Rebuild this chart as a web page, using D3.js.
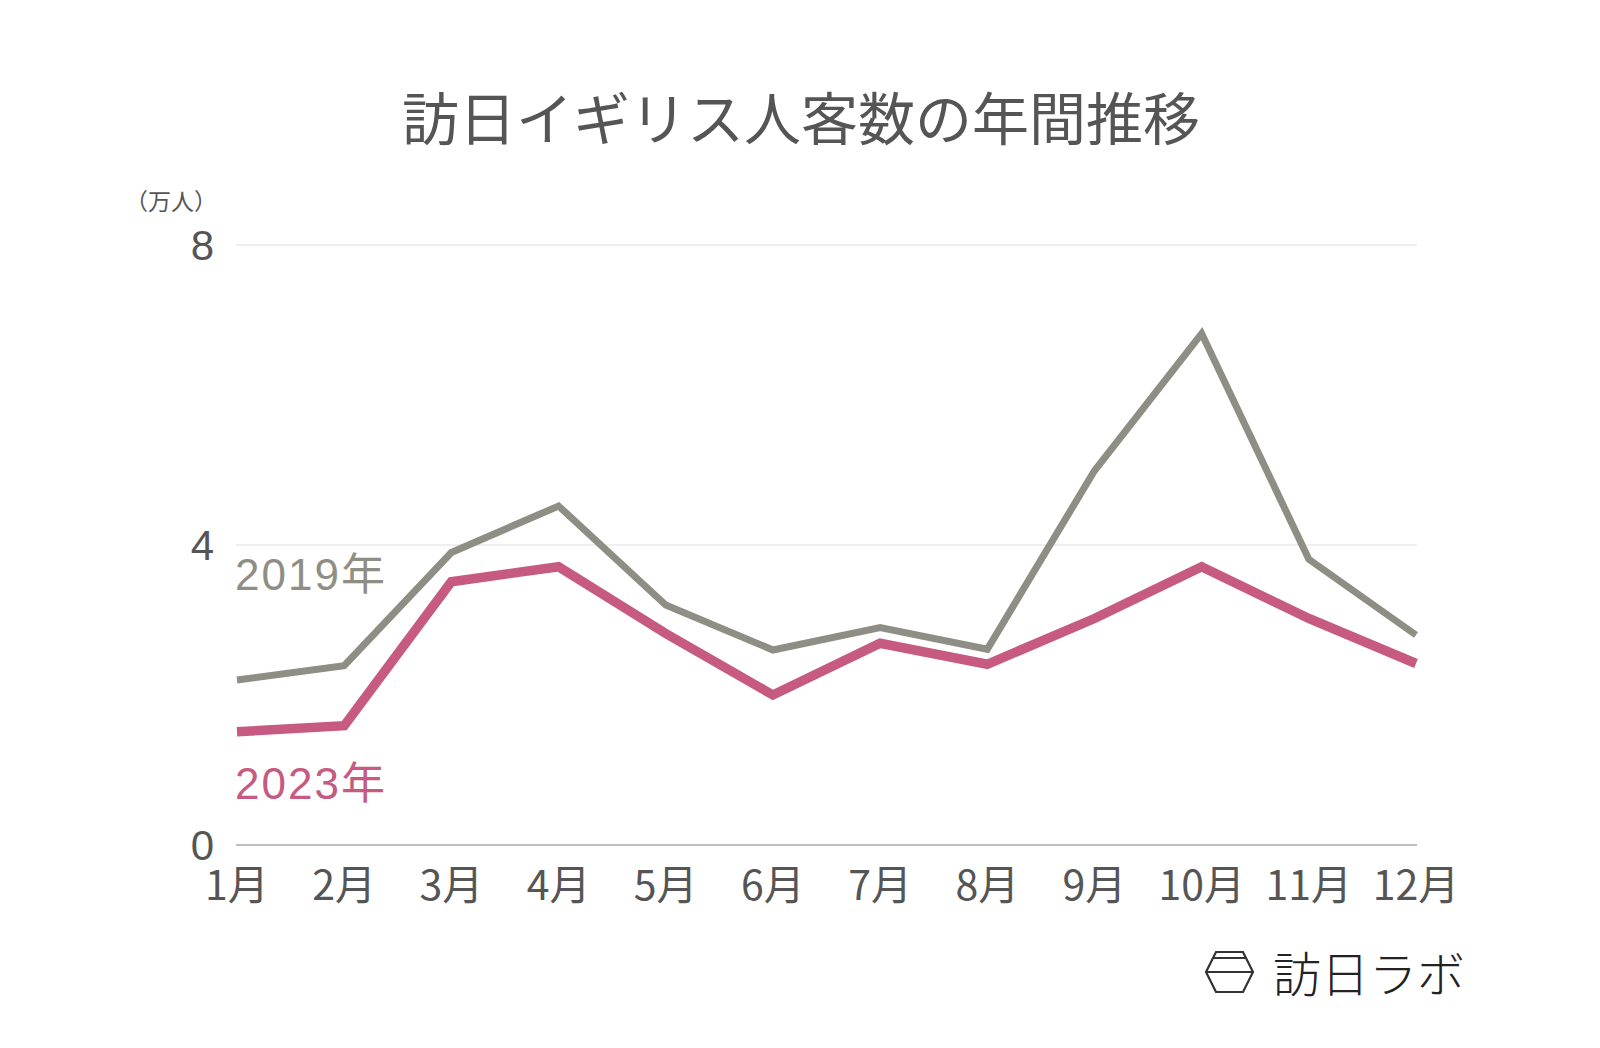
<!DOCTYPE html>
<html><head><meta charset="utf-8">
<script src="https://cdn.jsdelivr.net/npm/d3@7"></script>
<style>
html,body{margin:0;padding:0;background:#fff;}
svg{display:block;font-family:"Noto Sans CJK JP","Noto Sans",sans-serif;}
</style></head>
<body><svg id="c" width="1600" height="1048"></svg>
<script>
const months = ["1月","2月","3月","4月","5月","6月","7月","8月","9月","10月","11月","12月"];
const v2019 = [2.20, 2.39, 3.90, 4.52, 3.20, 2.60, 2.90, 2.61, 4.99, 6.82, 3.81, 2.80];
const v2023 = [1.51, 1.59, 3.51, 3.71, 2.82, 2.00, 2.69, 2.41, 3.02, 3.71, 3.02, 2.42];
const yTicks = [0, 4, 8];
const title = "訪日イギリス人客数の年間推移";
const unitLabel = "（万人）";
const seriesNames = ["2019年", "2023年"];
const logoText = "訪日ラボ";

const numFont = '"Liberation Sans","Noto Sans CJK JP",sans-serif';
const svg = d3.select("#c");
const x = d3.scalePoint().domain(months).range([237, 1416]);
const y = d3.scaleLinear().domain([0, 8]).range([845, 245]);

svg.append("text").attr("x", 801).attr("y", 115).attr("text-anchor", "middle")
  .attr("dominant-baseline", "central").attr("font-size", 57).attr("fill", "#555").text(title);

svg.append("text").attr("x", 217).attr("y", 200).attr("text-anchor", "end")
  .attr("dominant-baseline", "central").attr("font-size", 23).attr("fill", "#555").text(unitLabel);

// gridlines
svg.selectAll(".grid").data(yTicks).join("line")
  .attr("x1", 236).attr("x2", 1417)
  .attr("y1", d => y(d)).attr("y2", d => y(d))
  .attr("stroke", d => d === 0 ? "#a8a8a8" : "#dedede")
  .attr("stroke-width", d => d === 0 ? 1.5 : 1);

svg.selectAll(".ytick").data(yTicks).join("text")
  .attr("x", 214).attr("y", d => y(d) + 15).attr("text-anchor", "end")
  .attr("font-family", numFont).attr("font-size", 42).attr("fill", "#555").text(d => d);

svg.selectAll(".xtick").data(months).join("text")
  .attr("x", d => x(d)).attr("y", 900).attr("text-anchor", "middle")
  .attr("font-size", 41).attr("fill", "#555").text(d => d);

const line = d3.line().x((d, i) => x(months[i])).y(d => y(d));
svg.append("path").datum(v2019).attr("d", line).attr("fill", "none")
  .attr("stroke", "#8e8e84").attr("stroke-width", 7).attr("stroke-linejoin", "miter");
svg.append("path").datum(v2023).attr("d", line).attr("fill", "none")
  .attr("stroke", "#c65a80").attr("stroke-width", 9.5).attr("stroke-linejoin", "miter");

svg.append("text").attr("x", 235).attr("y", 590).attr("font-family", numFont).attr("font-size", 44)
  .attr("letter-spacing", 2).attr("fill", "#8e8e84").text(seriesNames[0]);
svg.append("text").attr("x", 235).attr("y", 799).attr("font-family", numFont).attr("font-size", 44)
  .attr("letter-spacing", 2).attr("fill", "#c65a80").text(seriesNames[1]);

// logo
const g = svg.append("g").attr("fill", "none").attr("stroke", "#333").attr("stroke-width", 2.2);
g.append("path").attr("d", "M1216,952 L1243,952 L1253,972 L1243,992 L1216,992 L1206,972 Z");
g.append("line").attr("x1", 1213).attr("x2", 1246).attr("y1", 958).attr("y2", 958);
g.append("line").attr("x1", 1206).attr("x2", 1253).attr("y1", 972).attr("y2", 972);
svg.append("text").attr("x", 1273).attr("y", 971).attr("dominant-baseline", "central")
  .attr("font-size", 48).attr("font-weight", 300).attr("fill", "#222").text(logoText);
</script></body></html>
